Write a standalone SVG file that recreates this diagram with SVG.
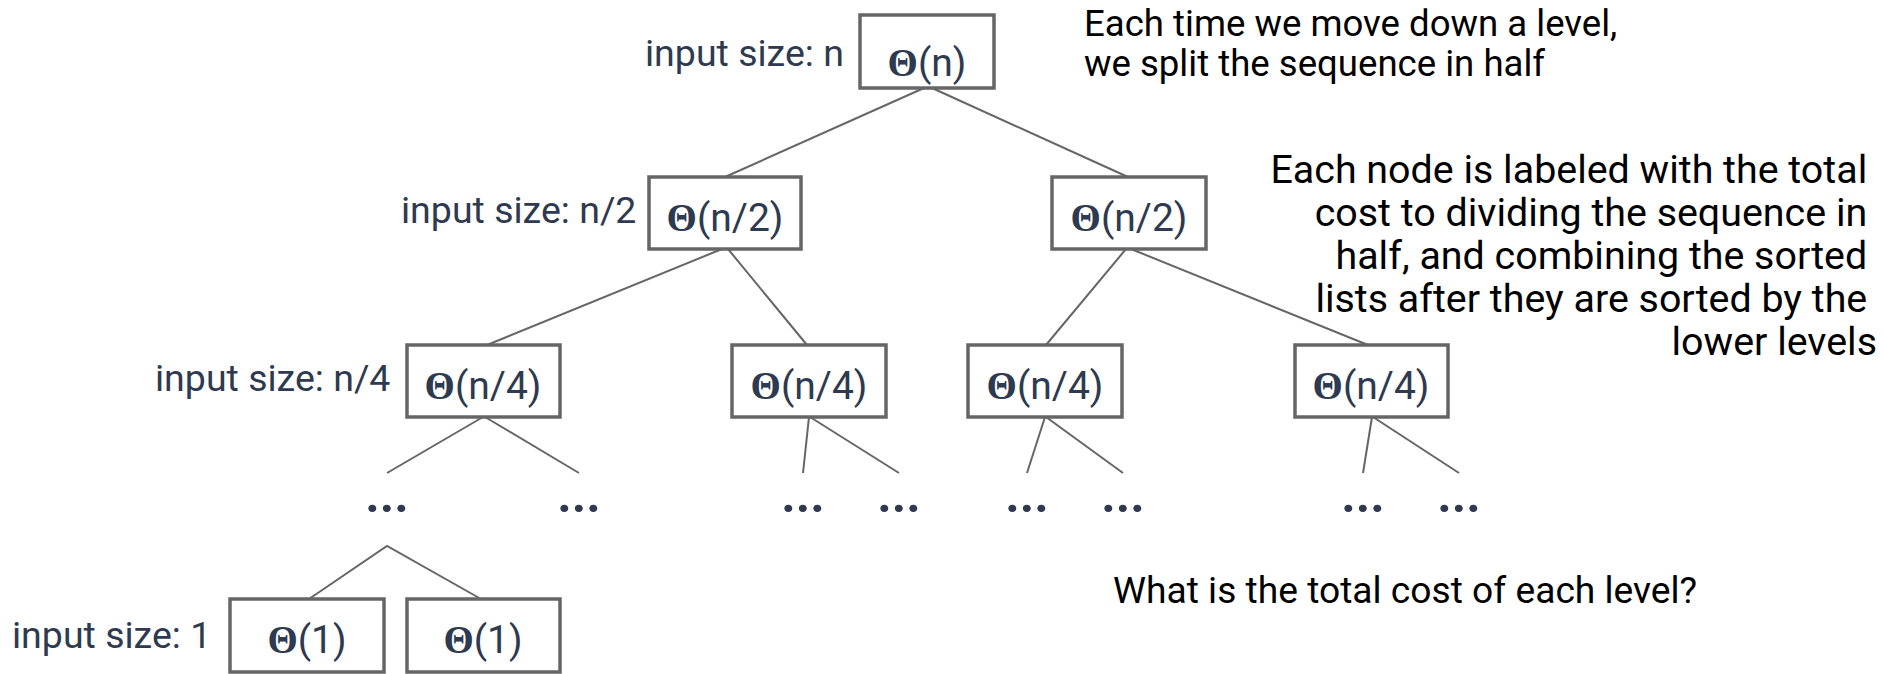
<svg xmlns="http://www.w3.org/2000/svg" width="1884" height="674" viewBox="0 0 1884 674">
<style>
.box{fill:#fff;stroke:#666;stroke-width:3.5}
.edge{stroke:#666;stroke-width:2;fill:none}
.lbl{font-family:Roboto,"Liberation Sans",sans-serif;font-size:37.5px;fill:#2e3a4f}
.th{font-family:"Liberation Serif",serif;font-weight:bold}
.val{font-family:Roboto,"Liberation Sans",sans-serif;font-size:39px;fill:#2e3a4f;text-anchor:middle}
.note{font-family:Roboto,"Liberation Sans",sans-serif;font-size:36.6px;fill:#000}
.note3{font-family:Roboto,"Liberation Sans",sans-serif;font-size:37.2px;fill:#000}
.note2{font-family:Roboto,"Liberation Sans",sans-serif;font-size:39.4px;fill:#000;text-anchor:end}
.dots{font-family:Roboto,"Liberation Sans",sans-serif;font-weight:bold;font-size:50px;fill:#2e3a4f;text-anchor:middle}
</style>
<rect width="1884" height="674" fill="#fff"/>
<g id="connectors">
<line class="edge" x1="924" y1="88" x2="725" y2="177"/>
<line class="edge" x1="932" y1="88" x2="1128" y2="177"/>
<line class="edge" x1="722" y1="249" x2="487" y2="345"/>
<line class="edge" x1="728" y1="249" x2="807" y2="345"/>
<line class="edge" x1="1126" y1="249" x2="1046" y2="345"/>
<line class="edge" x1="1131" y1="249" x2="1368" y2="345"/>
<line class="edge" x1="483" y1="417" x2="387" y2="473"/>
<line class="edge" x1="485" y1="417" x2="579" y2="473"/>
<line class="edge" x1="809" y1="417" x2="803" y2="473"/>
<line class="edge" x1="810" y1="417" x2="899" y2="473"/>
<line class="edge" x1="1045" y1="417" x2="1027" y2="473"/>
<line class="edge" x1="1046" y1="417" x2="1123" y2="473"/>
<line class="edge" x1="1372" y1="417" x2="1363" y2="473"/>
<line class="edge" x1="1373" y1="417" x2="1459" y2="473"/>
<polyline class="edge" points="309,599 387,546 481,599"/>
</g>
<g id="dots">
<text class="dots" x="387" y="512">...</text>
<text class="dots" x="579" y="512">...</text>
<text class="dots" x="803" y="512">...</text>
<text class="dots" x="899" y="512">...</text>
<text class="dots" x="1027" y="512">...</text>
<text class="dots" x="1123" y="512">...</text>
<text class="dots" x="1363" y="512">...</text>
<text class="dots" x="1459" y="512">...</text>
</g>
<g id="node-root">
<rect class="box" x="860" y="15" width="134" height="73"/>
<text class="val" x="927" y="76"><tspan class="th">Θ</tspan>(n)</text>
</g>
<g id="node-l2a">
<rect class="box" x="649" y="177" width="152" height="72"/>
<text class="val" x="725" y="231"><tspan class="th">Θ</tspan>(n/2)</text>
</g>
<g id="node-l2b">
<rect class="box" x="1052" y="177" width="154" height="72"/>
<text class="val" x="1129" y="231"><tspan class="th">Θ</tspan>(n/2)</text>
</g>
<g id="node-l3a">
<rect class="box" x="407" y="345" width="153" height="72"/>
<text class="val" x="483" y="399"><tspan class="th">Θ</tspan>(n/4)</text>
</g>
<g id="node-l3b">
<rect class="box" x="732" y="345" width="154" height="72"/>
<text class="val" x="809" y="399"><tspan class="th">Θ</tspan>(n/4)</text>
</g>
<g id="node-l3c">
<rect class="box" x="968" y="345" width="154" height="72"/>
<text class="val" x="1045" y="399"><tspan class="th">Θ</tspan>(n/4)</text>
</g>
<g id="node-l3d">
<rect class="box" x="1295" y="345" width="153" height="72"/>
<text class="val" x="1371" y="399"><tspan class="th">Θ</tspan>(n/4)</text>
</g>
<g id="node-leaf1">
<rect class="box" x="230" y="599" width="154" height="73"/>
<text class="val" x="307" y="653"><tspan class="th">Θ</tspan>(1)</text>
</g>
<g id="node-leaf2">
<rect class="box" x="407" y="599" width="153" height="73"/>
<text class="val" x="483" y="653"><tspan class="th">Θ</tspan>(1)</text>
</g>
<g id="labels">
<text class="lbl" x="645" y="66">input size: n</text>
<text class="lbl" x="401" y="223">input size: n/2</text>
<text class="lbl" x="155" y="391">input size: n/4</text>
<text class="lbl" x="12" y="648">input size: 1</text>
</g>
<g id="notes">
<text class="note" x="1084" y="36">Each time we move down a level,</text>
<text class="note" x="1084" y="76">we split the sequence in half</text>
<text class="note2">
<tspan x="1877" y="183">Each node is labeled with the total</tspan>
<tspan x="1877" y="226">cost to dividing the sequence in</tspan>
<tspan x="1877" y="269">half, and combining the sorted</tspan>
<tspan x="1877" y="312">lists after they are sorted by the</tspan>
<tspan x="1877" y="355">lower levels</tspan>
</text>
<text class="note3" x="1113" y="603">What is the total cost of each level?</text>
</g>
</svg>
